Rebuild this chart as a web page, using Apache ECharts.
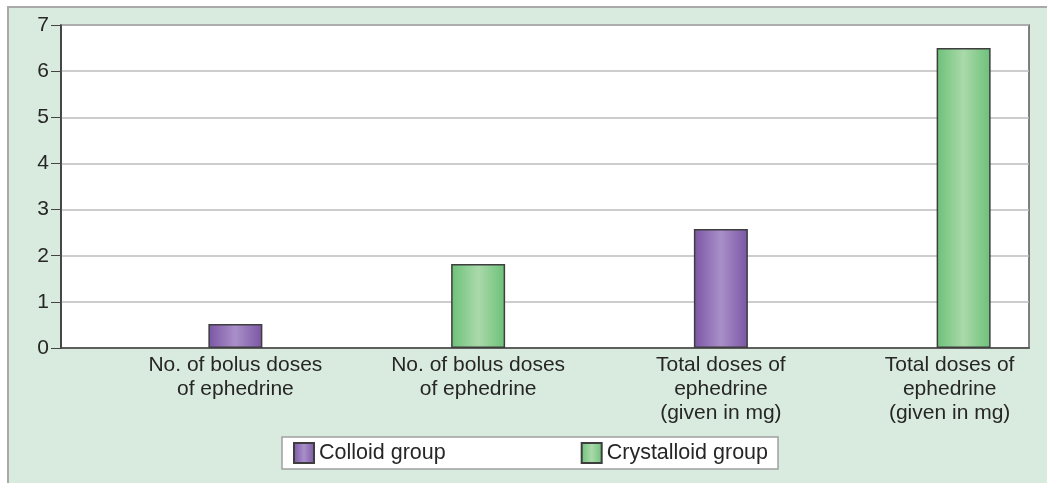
<!DOCTYPE html>
<html>
<head>
<meta charset="utf-8">
<script src="https://cdn.jsdelivr.net/npm/echarts@6/dist/echarts.min.js"></script>
<style>
  html, body { margin: 0; padding: 0; background: #ffffff; }
  #bg { position: absolute; left: 7px; top: 6px; width: 1040px; height: 477px;
        background: #d9ebdf; border-left: 2px solid #a9a9a9; border-top: 2px solid #a9a9a9; box-sizing: border-box; }
  #chart { position: absolute; left: 0; top: 0; width: 1047px; height: 483px; }
</style>
</head>
<body>
<div id="bg"></div>
<div id="chart"></div>
<script>
const categories = [
  'No. of bolus doses\nof ephedrine',
  'No. of bolus doses\nof ephedrine',
  'Total doses of\nephedrine\n(given in mg)',
  'Total doses of\nephedrine\n(given in mg)'
];
const seriesNames = ['Colloid group', 'Crystalloid group'];
const colloidValues = [0.52, null, 2.58, null];
const crystalloidValues = [null, 1.82, null, 6.5];
const yTicks = [0, 1, 2, 3, 4, 5, 6, 7];

const FONT = '"Liberation Sans", Arial, sans-serif';
const TXT = '#262626';

function grad(edge, mid) {
  return new echarts.graphic.LinearGradient(0, 0, 1, 0, [
    { offset: 0, color: edge },
    { offset: 0.5, color: mid },
    { offset: 1, color: edge }
  ]);
}

const catData = categories.map((c, i) => i === 3
  ? { value: c, textStyle: { padding: [0, 28, 0, 0] } }
  : c);

const chart = echarts.init(document.getElementById('chart'), null, { renderer: 'canvas' });
chart.setOption({
  backgroundColor: 'transparent',
  animation: false,
  textStyle: { fontFamily: FONT },
  grid: [
    { left: 61, top: 25, width: 968, height: 323, show: true, backgroundColor: '#ffffff',
      borderColor: '#5a5a5a', borderWidth: 1.5, outerBoundsMode: 'none', containLabel: false },
    { left: 114, top: 25, width: 971, height: 323, show: false, outerBoundsMode: 'none', containLabel: false }
  ],
  legend: {
    data: seriesNames,
    left: 282, top: 437,
    orient: 'horizontal',
    backgroundColor: '#ffffff',
    borderColor: '#a0a0a0', borderWidth: 1.5,
    padding: [5, 10, 5, 11],
    itemWidth: 20, itemHeight: 20,
    itemGap: 135,
    icon: 'rect',
    textStyle: { fontSize: 21.5, color: TXT, fontFamily: FONT }
  },
  xAxis: [
    { type: 'category', gridIndex: 0, data: categories,
      axisLine: { show: true, lineStyle: { color: '#444', width: 1.5 } },
      axisTick: { show: false }, axisLabel: { show: false }, splitLine: { show: false } },
    { type: 'category', gridIndex: 1, data: catData,
      axisLine: { show: false }, axisTick: { show: false }, splitLine: { show: false },
      axisLabel: { show: true, interval: 0, margin: 5, fontSize: 21, lineHeight: 24, color: TXT, fontFamily: FONT, align: 'center' } }
  ],
  yAxis: [
    { type: 'value', gridIndex: 0, min: yTicks[0], max: yTicks[yTicks.length - 1], interval: 1,
      axisLine: { show: true, lineStyle: { color: '#333', width: 1.5 } },
      axisTick: { show: true, length: 10, lineStyle: { color: '#444', width: 1 } },
      axisLabel: { fontSize: 21, color: TXT, margin: 12, fontFamily: FONT },
      splitLine: { show: true, lineStyle: { color: '#bdbdbd', width: 1.5 } } },
    { type: 'value', gridIndex: 1, min: yTicks[0], max: yTicks[yTicks.length - 1], show: false,
      splitLine: { show: false } }
  ],
  series: [
    { name: seriesNames[0], type: 'bar', xAxisIndex: 1, yAxisIndex: 1, data: colloidValues,
      barWidth: 54, barGap: '-100%',
      itemStyle: { color: grad('#7b56a4', '#a98fc9'), borderColor: '#3e3e3e', borderWidth: 1.5 } },
    { name: seriesNames[1], type: 'bar', xAxisIndex: 1, yAxisIndex: 1, data: crystalloidValues,
      barWidth: 54, barGap: '-100%',
      itemStyle: { color: grad('#6cc178', '#aad9aa'), borderColor: '#3e3e3e', borderWidth: 1.5 } }
  ]
});
</script>
</body>
</html>
